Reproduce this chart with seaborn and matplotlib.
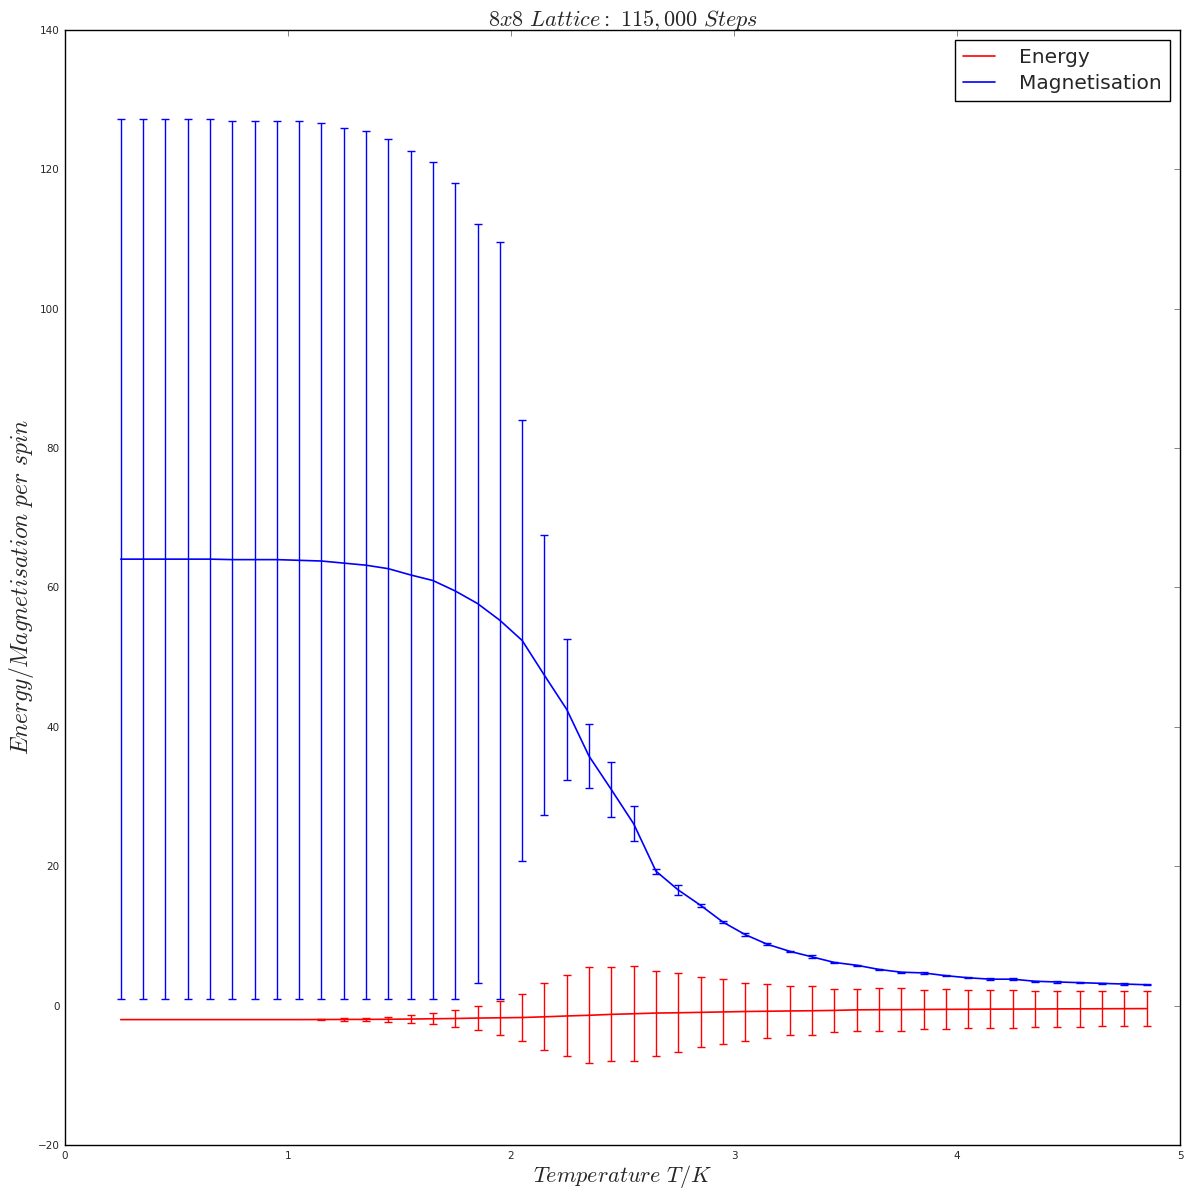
import numpy as np
import pandas as pd
import matplotlib
import matplotlib.pyplot as plt
import seaborn as sns

# temperatures (T/K)
temps = [0.25, 0.35, 0.45, 0.55, 0.65, 0.75, 0.85, 0.95, 1.05, 1.15,
         1.25, 1.35, 1.45, 1.55, 1.65, 1.75, 1.85, 1.95, 2.05, 2.15,
         2.25, 2.35, 2.45, 2.55, 2.65, 2.75, 2.85, 2.95, 3.05, 3.15,
         3.25, 3.35, 3.45, 3.55, 3.65, 3.75, 3.85, 3.95, 4.05, 4.15,
         4.25, 4.35, 4.45, 4.55, 4.65, 4.75, 4.85]

energy = [-2.0, -2.0, -2.0, -2.0, -2.0, -2.0, -2.0, -2.0, -2.0, -1.99,
          -1.98, -1.97, -1.95, -1.92, -1.88, -1.84, -1.78, -1.74, -1.70, -1.60,
          -1.48, -1.38, -1.25, -1.16, -1.06, -1.02, -0.96, -0.90, -0.84, -0.80,
          -0.76, -0.73, -0.68, -0.60, -0.58, -0.57, -0.55, -0.53, -0.52, -0.50,
          -0.49, -0.48, -0.46, -0.45, -0.44, -0.43, -0.42]
energy_err = [0.0, 0.0, 0.0, 0.0, 0.0, 0.0, 0.0, 0.0, 0.0, 0.1,
              0.18, 0.24, 0.33, 0.6, 0.82, 1.27, 1.78, 2.4, 3.35, 4.79,
              5.81, 6.89, 6.73, 6.8, 6.1, 5.67, 5.03, 4.67, 4.16, 3.88,
              3.51, 3.51, 3.14, 3.06, 3.06, 3.06, 2.8, 2.87, 2.72, 2.72,
              2.72, 2.58, 2.58, 2.58, 2.51, 2.51, 2.51]

magnet = [64.07, 64.07, 64.07, 64.07, 64.07, 64.0, 64.0, 64.0, 63.9, 63.8,
          63.5, 63.2, 62.7, 61.8, 61.0, 59.5, 57.7, 55.3, 52.4, 47.4,
          42.5, 35.8, 31.0, 26.1, 19.3, 16.6, 14.4, 12.0, 10.2, 8.8,
          7.8, 7.0, 6.2, 5.8, 5.2, 4.8, 4.7, 4.3, 4.0, 3.8,
          3.8, 3.5, 3.4, 3.3, 3.2, 3.1, 3.0]
magnet_err = [63.1, 63.1, 63.1, 63.1, 63.1, 63.0, 63.0, 63.0, 63.0, 62.8,
              62.5, 62.3, 61.7, 60.9, 60.1, 58.5, 54.4, 54.3, 31.6, 20.1,
              10.1, 4.6, 4.0, 2.5, 0.35, 0.7, 0.2, 0.15, 0.25, 0.15,
              0.1, 0.2, 0.1, 0.1, 0.1, 0.1, 0.1, 0.1, 0.1, 0.1,
              0.1, 0.1, 0.1, 0.1, 0.1, 0.1, 0.1]

df = pd.DataFrame({'T': temps, 'E': energy, 'E_err': energy_err,
                   'M': magnet, 'M_err': magnet_err})

sns.set_style('white')
matplotlib.rcParams['font.family'] = ['DejaVu Sans']
matplotlib.rcParams['mathtext.fontset'] = 'cm'
matplotlib.rcParams['xtick.direction'] = 'in'
matplotlib.rcParams['ytick.direction'] = 'in'

fig = plt.figure(figsize=(11.9, 11.98), dpi=100)
ax = fig.add_axes([0.0546, 0.0442, 0.937, 0.9308])

sns.lineplot(data=df, x='T', y='E', color='red', lw=1.2, label='Energy', ax=ax)
sns.lineplot(data=df, x='T', y='M', color='blue', lw=1.2, label='Magnetisation', ax=ax)
# only points with a visible spread get an error bar
e_sel = df[df['E_err'] > 0]
ax.errorbar(e_sel['T'], e_sel['E'], yerr=e_sel['E_err'], fmt='none', ecolor='red',
            elinewidth=1, capsize=2.6, capthick=1)
ax.errorbar(df['T'], df['M'], yerr=df['M_err'], fmt='none', ecolor='blue',
            elinewidth=1, capsize=2.6, capthick=1)

ax.set_xlim(0, 5)
ax.set_ylim(-20, 140)
ax.set_xticks([0, 1, 2, 3, 4, 5])
ax.set_yticks(range(-20, 141, 20))
ax.tick_params(axis='both', labelsize=7.5, length=4, width=0.5, color='#555555',
               top=True, right=True, pad=4)
for s in ax.spines.values():
    s.set_color('black')
    s.set_linewidth(1)

ax.set_title(r'$8x8\ Lattice:\ 115,000\ Steps$', fontsize=16, pad=3)
ax.set_xlabel(r'$Temperature\ T/K$', fontsize=16, labelpad=2)
ax.set_ylabel(r'$Energy/Magnetisation\ per\ spin$', fontsize=17, labelpad=1)

leg = ax.legend(loc='upper right', fontsize=14.5, fancybox=False, framealpha=1,
                edgecolor='black', handlelength=1.6, handletextpad=1.2,
                borderaxespad=0.5, labelspacing=0.35)
leg.get_frame().set_linewidth(1)

fig.savefig('out.png', dpi=100)
